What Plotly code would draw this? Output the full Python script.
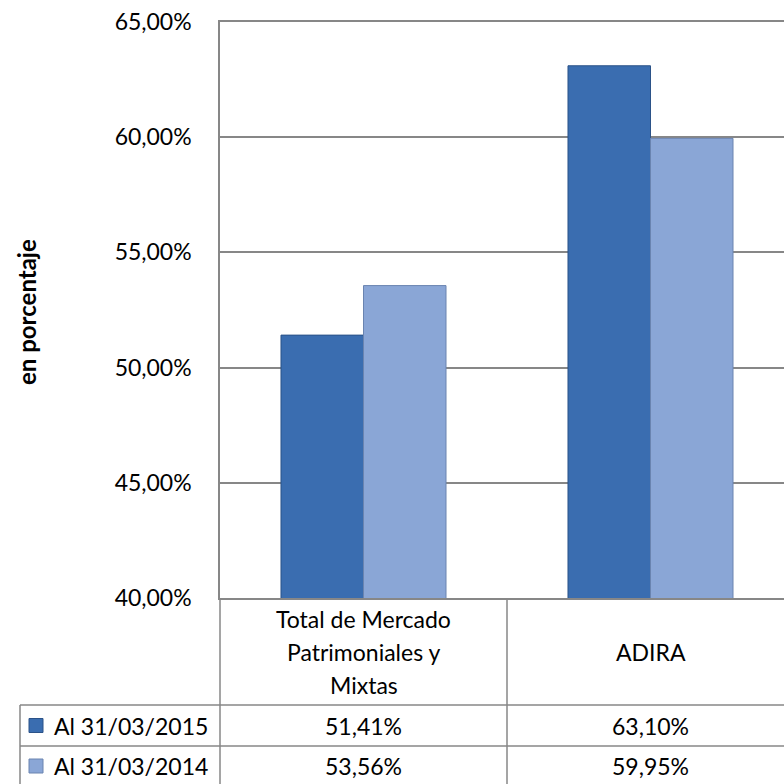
import plotly.graph_objects as go

# ---- data ----
categories = ["Total de Mercado<br>Patrimoniales y<br>Mixtas", "ADIRA"]
series_names = ["Al 31/03/2015", "Al 31/03/2014"]
values_2015 = [51.41, 63.10]
values_2014 = [53.56, 59.95]
y_tickvals = [40, 45, 50, 55, 60, 65]
y_ticktext = ["40,00%", "45,00%", "50,00%", "55,00%", "60,00%", "65,00%"]
axis_title = "en porcentaje"

# ---- layout constants ----
W, H = 784, 784
ML, MR, MT, MB = 220, 0, 22, 186
PW, PH = W - ML - MR, H - MT - MB
CAT_PX = 287
x_range = [-0.5, -0.5 + PW / CAT_PX]

FONT = "Lato"
FS = 23
GRID = "#878787"
colors = ["#3A6DB0", "#8AA6D6"]
edges = ["#2B5288", "#6A84B0"]


def px(xp):
    return (xp - ML) / PW


def py(yp):
    return (H - MB - yp) / PH


def data_to_paper_x(v):
    return (v - x_range[0]) / (x_range[1] - x_range[0])


xidx = list(range(len(categories)))

fig = go.Figure()
for name, vals, c, e in zip(series_names, [values_2015, values_2014], colors, edges):
    fig.add_trace(go.Bar(
        x=xidx, y=vals, name=name,
        marker=dict(color=c, line=dict(color=e, width=1)),
        showlegend=False, hoverinfo="y",
    ))

shapes = []
lw = 1.5
shapes.append(dict(type="line", xref="paper", yref="paper",
                   x0=0, x1=0, y0=0, y1=py(786), line=dict(color=GRID, width=lw)))
for b in range(len(categories) - 1):
    xb = data_to_paper_x(b + 0.5)
    shapes.append(dict(type="line", xref="paper", yref="paper",
                       x0=xb, x1=xb, y0=0, y1=py(786), line=dict(color=GRID, width=lw)))
for yl in [705, 746]:
    shapes.append(dict(type="line", xref="paper", yref="paper",
                       x0=px(20), x1=1.0, y0=py(yl), y1=py(yl),
                       line=dict(color=GRID, width=lw)))
shapes.append(dict(type="line", xref="paper", yref="paper",
                   x0=px(20), x1=px(20), y0=py(705), y1=py(786),
                   line=dict(color=GRID, width=lw)))

row_centers = [725.5, 766]
annotations = []
for i, (name, c, e) in enumerate(zip(series_names, colors, edges)):
    yc = row_centers[i]
    shapes.append(dict(type="rect", xref="paper", yref="paper",
                       x0=px(29), x1=px(43), y0=py(yc - 7), y1=py(yc + 7),
                       fillcolor=c, line=dict(color=e, width=1)))
    annotations.append(dict(text=name, xref="paper", yref="paper",
                            x=px(52), y=py(yc), xanchor="left", yanchor="middle",
                            showarrow=False, font=dict(family=FONT, size=FS, color="#000")))

for i, vals in enumerate([values_2015, values_2014]):
    for j, v in enumerate(vals):
        annotations.append(dict(text=f"{v:.2f}".replace(".", ",") + "%",
                                xref="x", yref="paper", x=j, y=py(row_centers[i]),
                                xanchor="center", yanchor="middle", showarrow=False,
                                font=dict(family=FONT, size=FS, color="#000")))

hdr_center = 652
line_sp = 33
for j, cat in enumerate(categories):
    lines = cat.split("<br>")
    n = len(lines)
    for k, ln in enumerate(lines):
        yc = hdr_center + (k - (n - 1) / 2) * line_sp
        annotations.append(dict(text=ln, xref="x", yref="paper", x=j, y=py(yc),
                                xanchor="center", yanchor="middle", showarrow=False,
                                font=dict(family=FONT, size=FS, color="#000")))

annotations.append(dict(text=f"<b>{axis_title}</b>", xref="paper", yref="paper",
                        x=px(26), y=py(312), xanchor="center", yanchor="middle",
                        textangle=-90, showarrow=False,
                        font=dict(family=FONT, size=24, color="#000")))

fig.update_layout(
    width=W, height=H,
    margin=dict(l=ML, r=MR, t=MT, b=MB),
    paper_bgcolor="white", plot_bgcolor="white",
    barmode="group", bargap=0.425, bargroupgap=0,
    xaxis=dict(range=x_range, showticklabels=False, showgrid=False,
               showline=True, linecolor=GRID, linewidth=lw, mirror=True,
               zeroline=False, ticks=""),
    yaxis=dict(range=[40, 65], tickvals=y_tickvals, ticktext=y_ticktext,
               showgrid=True, gridcolor=GRID, gridwidth=lw,
               showline=True, linecolor=GRID, linewidth=lw, zeroline=False,
               ticks="outside", ticklen=22, tickcolor="rgba(0,0,0,0)",
               tickfont=dict(family=FONT, size=FS, color="#000")),
    shapes=shapes, annotations=annotations,
    font=dict(family=FONT),
)

fig.write_html("out.html", config={"displayModeBar": False},
               post_script="document.body.style.margin='0';document.body.style.overflow='hidden';")
